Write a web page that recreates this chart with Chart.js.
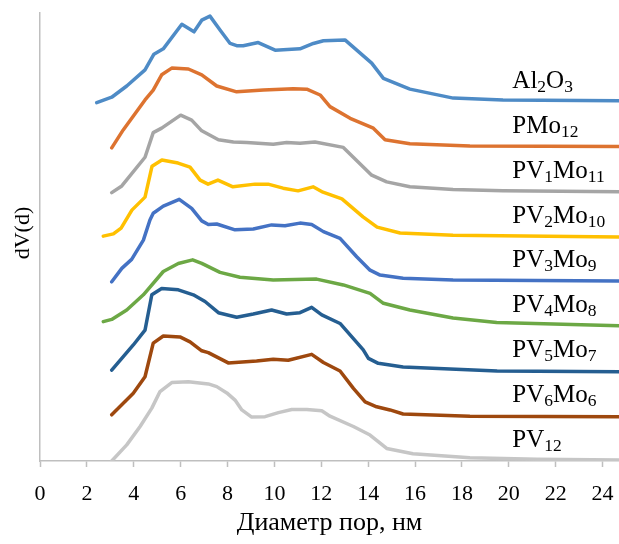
<!DOCTYPE html>
<html>
<head>
<meta charset="utf-8">
<script src="https://cdn.jsdelivr.net/npm/chart.js@4.4.1/dist/chart.umd.min.js"></script>
<style>
  html, body { margin: 0; padding: 0; background: #ffffff; }
  #wrap { width: 619px; height: 544px; }
</style>
</head>
<body>
<div id="wrap"><canvas id="chart" width="619" height="544"></canvas></div>
<script>
// Pore size distributions, curves offset vertically (arbitrary dV(d) units)
const seriesLabels = ['Al_{2}O_{3}', 'PMo_{12}', 'PV_{1}Mo_{11}', 'PV_{2}Mo_{10}', 'PV_{3}Mo_{9}',
                      'PV_{4}Mo_{8}', 'PV_{5}Mo_{7}', 'PV_{6}Mo_{6}', 'PV_{12}'];
const seriesColors = ['#4E8BC6', '#DD7330', '#A5A5A5', '#FFC000', '#4472C4',
                      '#6CA845', '#255E91', '#9E480E', '#C6C6C6'];

const al2o3X = [2.42, 3.06, 3.70, 4.48, 4.86, 5.26, 6.05, 6.57, 6.90, 7.25, 7.68, 8.11, 8.39, 8.67, 9.31, 10.03, 11.09, 11.66, 12.09, 13.01, 14.15, 14.65, 15.78, 17.63, 19.75, 24.70];
const al2o3Y = [8.00, 8.12, 8.37, 8.73, 9.08, 9.20, 9.75, 9.58, 9.84, 9.93, 9.62, 9.32, 9.27, 9.27, 9.34, 9.17, 9.20, 9.32, 9.38, 9.40, 8.88, 8.54, 8.30, 8.10, 8.06, 8.04];

const pmo12X = [3.06, 3.55, 4.48, 4.83, 5.19, 5.62, 6.33, 6.90, 7.54, 8.39, 9.53, 10.81, 11.38, 11.95, 12.37, 13.23, 14.22, 14.72, 15.78, 18.34, 24.70];
const pmo12Y = [6.99, 7.39, 8.06, 8.28, 8.62, 8.77, 8.75, 8.62, 8.37, 8.24, 8.28, 8.31, 8.30, 8.17, 7.91, 7.65, 7.43, 7.17, 7.08, 7.03, 7.02];

const pv1X = [3.06, 3.49, 4.48, 4.83, 5.19, 6.00, 6.47, 6.90, 7.61, 8.25, 8.82, 9.95, 10.52, 11.09, 11.73, 12.94, 14.15, 14.79, 15.78, 17.62, 19.75, 24.70];
const pv1Y = [5.99, 6.14, 6.78, 7.33, 7.43, 7.72, 7.61, 7.37, 7.17, 7.12, 7.11, 7.07, 7.11, 7.09, 7.12, 7.00, 6.38, 6.23, 6.12, 6.06, 6.03, 6.01];

const pv2X = [2.70, 3.13, 3.46, 3.92, 4.48, 4.78, 5.20, 5.89, 6.40, 6.83, 7.17, 7.59, 8.23, 9.17, 9.73, 10.37, 11.01, 11.65, 12.07, 12.88, 13.78, 14.38, 15.36, 17.62, 24.70];
const pv2Y = [5.02, 5.07, 5.20, 5.60, 5.89, 6.58, 6.72, 6.65, 6.56, 6.27, 6.18, 6.27, 6.12, 6.18, 6.18, 6.09, 6.03, 6.12, 6.00, 5.85, 5.45, 5.22, 5.09, 5.04, 5.00];

const pv3X = [3.06, 3.49, 3.91, 4.41, 4.69, 4.83, 5.26, 5.94, 6.47, 6.90, 7.18, 7.54, 8.32, 9.10, 9.88, 10.45, 11.09, 11.59, 12.09, 12.80, 13.51, 14.08, 14.51, 15.49, 17.62, 24.70];
const pv3Y = [4.00, 4.30, 4.50, 4.93, 5.38, 5.53, 5.69, 5.84, 5.64, 5.36, 5.28, 5.29, 5.16, 5.18, 5.27, 5.25, 5.31, 5.28, 5.12, 4.97, 4.56, 4.26, 4.15, 4.08, 4.04, 4.02];

const pv4X = [2.70, 3.06, 3.70, 4.41, 5.26, 5.90, 6.51, 6.90, 7.68, 8.53, 9.95, 11.80, 12.94, 14.08, 14.65, 15.78, 17.62, 19.48, 24.70];
const pv4Y = [3.11, 3.16, 3.37, 3.71, 4.23, 4.41, 4.49, 4.41, 4.21, 4.10, 4.04, 4.06, 3.93, 3.74, 3.52, 3.37, 3.19, 3.09, 3.02];

const pv5X = [3.06, 3.98, 4.48, 4.77, 5.19, 5.90, 6.54, 7.04, 7.61, 8.39, 9.10, 9.88, 10.52, 11.09, 11.59, 12.02, 12.80, 13.79, 14.01, 14.43, 15.49, 19.50, 24.70];
const pv5Y = [2.03, 2.59, 2.92, 3.71, 3.85, 3.82, 3.71, 3.56, 3.31, 3.21, 3.28, 3.37, 3.28, 3.31, 3.43, 3.26, 3.07, 2.48, 2.29, 2.18, 2.10, 2.01, 1.99];

const pv6X = [3.06, 3.98, 4.48, 4.83, 5.26, 5.97, 6.40, 6.90, 7.18, 8.03, 9.24, 9.95, 10.59, 11.59, 12.09, 12.80, 13.37, 13.87, 14.36, 14.93, 15.49, 18.34, 24.70];
const pv6Y = [1.03, 1.51, 1.88, 2.63, 2.79, 2.77, 2.66, 2.46, 2.42, 2.19, 2.23, 2.27, 2.25, 2.38, 2.20, 2.01, 1.62, 1.32, 1.21, 1.14, 1.05, 1.00, 0.99];

const pv12X = [3.06, 3.70, 4.27, 4.77, 5.12, 5.62, 6.33, 7.18, 7.54, 7.97, 8.32, 8.61, 9.03, 9.60, 10.17, 10.74, 11.38, 12.02, 12.37, 13.37, 14.08, 14.79, 15.91, 18.34, 21.20, 24.70];
const pv12Y = [0.00, 0.36, 0.77, 1.18, 1.55, 1.75, 1.77, 1.72, 1.66, 1.52, 1.36, 1.14, 0.98, 0.99, 1.08, 1.15, 1.15, 1.12, 1.00, 0.77, 0.58, 0.28, 0.16, 0.07, 0.04, 0.02];

const seriesX = [al2o3X, pmo12X, pv1X, pv2X, pv3X, pv4X, pv5X, pv6X, pv12X];
const seriesY = [al2o3Y, pmo12Y, pv1Y, pv2Y, pv3Y, pv4Y, pv5Y, pv6Y, pv12Y];

const xTickValues = [0, 2, 4, 6, 8, 10, 12, 14, 16, 18, 20, 22, 24];
const xTitle = 'Диаметр пор, нм';
const yTitle = 'dV(d)';
const xMin = 0, xMax = 24.7;
const yMin = 0, yMax = 10;
const labelX = 20.15;          // where the series names start (x units)
const serif = "'Liberation Serif', 'Times New Roman', serif";

const datasets = seriesX.map((xs, i) => ({
  label: seriesLabels[i],
  data: xs.map((x, k) => ({ x: x, y: seriesY[i][k] })),
  borderColor: seriesColors[i],
  backgroundColor: seriesColors[i],
  borderWidth: 3.5,
  pointRadius: 0,
  pointHoverRadius: 0,
  tension: 0,
  fill: false,
  borderJoinStyle: 'round',
  borderCapStyle: 'round'
}));

// Series names with subscripts, and the rotated y-axis title
const textPlugin = {
  id: 'textPlugin',
  afterDatasetsDraw(chart) {
    const { ctx, chartArea, scales: { x, y } } = chart;
    ctx.save();
    ctx.fillStyle = '#000000';
    ctx.textBaseline = 'alphabetic';
    ctx.textAlign = 'left';
    chart.data.datasets.forEach((ds, i) => {
      const last = ds.data[ds.data.length - 1].y;
      let px = x.getPixelForValue(labelX);
      const py = y.getPixelForValue(Math.round(last) + 0.32);
      seriesLabels[i].split(/(_\{\d+\})/).filter(s => s.length).forEach(part => {
        const m = part.match(/^_\{(\d+)\}$/);
        if (m) {
          ctx.font = '17.5px ' + serif;
          ctx.fillText(m[1], px, py + 4);
          px += ctx.measureText(m[1]).width;
        } else {
          ctx.font = '25px ' + serif;
          ctx.fillText(part, px, py);
          px += ctx.measureText(part).width;
        }
      });
    });
    ctx.translate(23, (chartArea.top + chartArea.bottom) / 2 - 4);
    ctx.rotate(-Math.PI / 2);
    ctx.textAlign = 'center';
    ctx.textBaseline = 'middle';
    ctx.font = '22px ' + serif;
    ctx.fillText(yTitle, 0, 0);
    ctx.restore();
  }
};

new Chart(document.getElementById('chart'), {
  type: 'line',
  data: { datasets: datasets },
  options: {
    responsive: false,
    animation: false,
    devicePixelRatio: 1,
    layout: { padding: { top: 13, right: 0, bottom: 0, left: 0 } },
    plugins: { legend: { display: false }, tooltip: { enabled: false } },
    scales: {
      x: {
        type: 'linear',
        min: xMin,
        max: xMax,
        afterBuildTicks(scale) {
          scale.ticks = xTickValues.map(v => ({ value: v }));
        },
        afterFit(scale) {
          scale.height = 83;
          scale.paddingLeft = 0;
          scale.paddingRight = 0;
        },
        ticks: {
          autoSkip: false,
          maxRotation: 0,
          padding: 14,
          color: '#000000',
          font: { family: serif, size: 22 }
        },
        grid: {
          display: true,
          drawOnChartArea: false,
          drawTicks: true,
          tickLength: 6,
          tickWidth: 1.5,
          color: '#BFBFBF'
        },
        border: { display: true, color: '#BFBFBF', width: 1.5 },
        title: {
          display: true,
          text: xTitle,
          color: '#000000',
          font: { family: serif, size: 26 },
          padding: { top: 0, bottom: 5 }
        }
      },
      y: {
        type: 'linear',
        min: yMin,
        max: yMax,
        afterFit(scale) {
          scale.width = 40;
          scale.paddingTop = 0;
          scale.paddingBottom = 0;
        },
        ticks: { display: false },
        grid: { display: true, drawOnChartArea: false, drawTicks: false },
        border: { display: true, color: '#BFBFBF', width: 1.5 }
      }
    }
  },
  plugins: [textPlugin]
});
</script>
</body>
</html>
